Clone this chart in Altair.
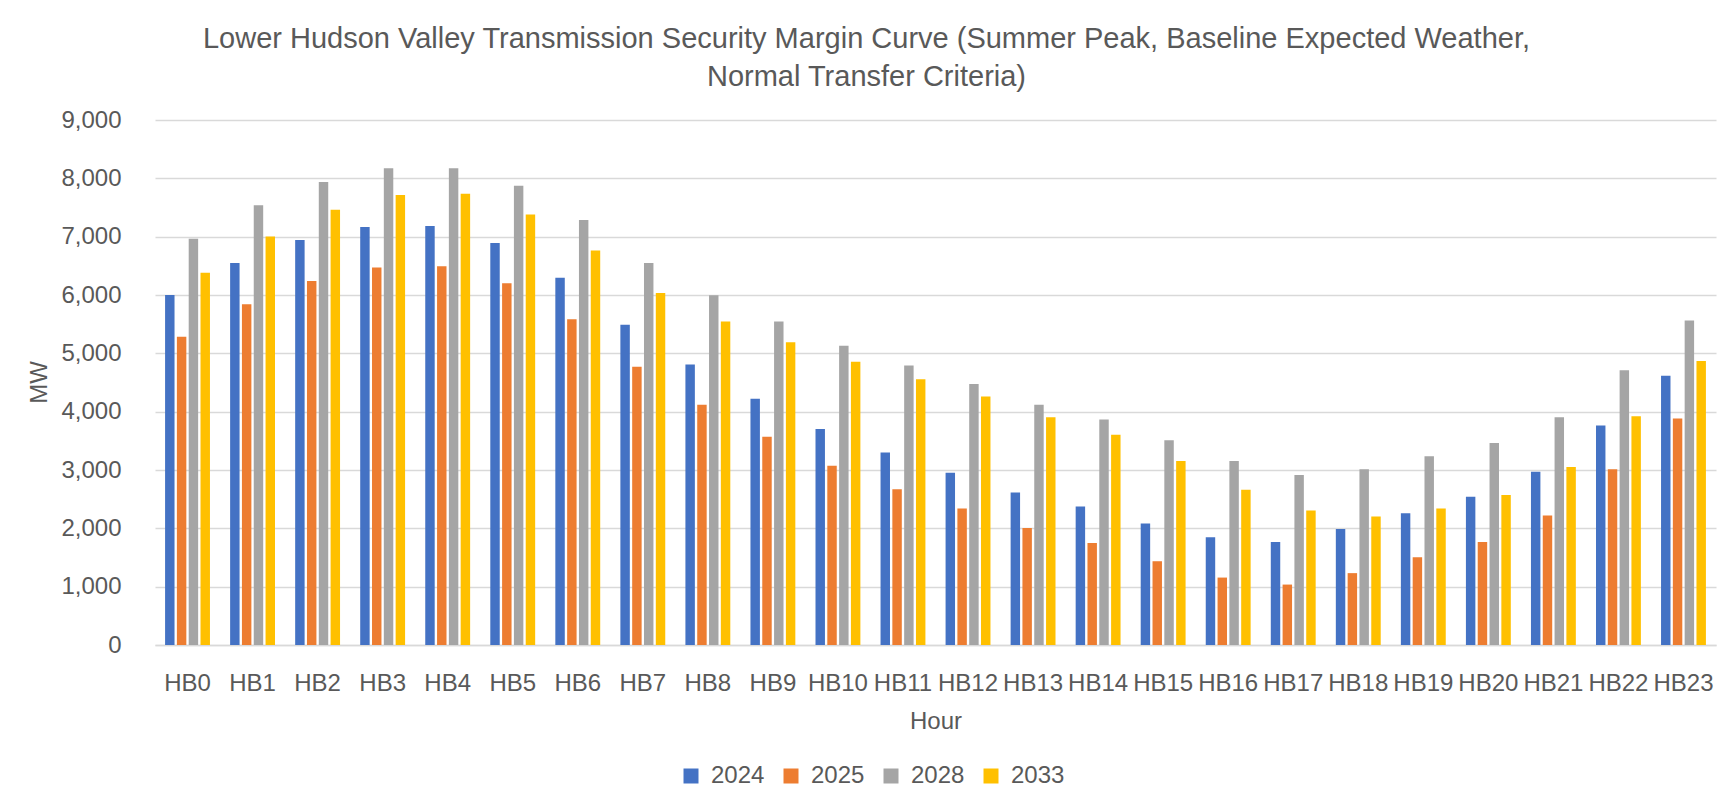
import altair as alt
import pandas as pd

hours = ["HB0", "HB1", "HB2", "HB3", "HB4", "HB5", "HB6", "HB7", "HB8", "HB9", "HB10", "HB11",
         "HB12", "HB13", "HB14", "HB15", "HB16", "HB17", "HB18", "HB19", "HB20", "HB21", "HB22", "HB23"]
years = ["2024", "2025", "2028", "2033"]
colors = ["#4472C4", "#ED7D31", "#A5A5A5", "#FFC000"]

v2024 = [6000, 6550, 6945, 7165, 7185, 6890, 6295, 5490, 4810, 4220, 3705, 3300,
         2955, 2615, 2375, 2085, 1848, 1765, 1988, 2260, 2540, 2972, 3765, 4615]
v2025 = [5285, 5840, 6238, 6472, 6492, 6200, 5585, 4772, 4120, 3568, 3072, 2672,
         2342, 2006, 1747, 1436, 1156, 1036, 1232, 1505, 1766, 2222, 3015, 3885]
v2028 = [6965, 7540, 7938, 8172, 8172, 7875, 7285, 6548, 5996, 5546, 5128, 4792,
         4474, 4118, 3865, 3510, 3155, 2913, 3015, 3236, 3465, 3903, 4710, 5565]
v2033 = [6380, 7005, 7462, 7716, 7735, 7380, 6765, 6034, 5546, 5190, 4855, 4557,
         4258, 3903, 3605, 3155, 2660, 2304, 2203, 2342, 2572, 3053, 3922, 4868]

series = {"2024": v2024, "2025": v2025, "2028": v2028, "2033": v2033}
rows = []
for y in years:
    for h, v in zip(hours, series[y]):
        rows.append({"Hour": h, "Year": y, "MW": v})
df = pd.DataFrame(rows)

FONT = "Liberation Sans"
GREY = "#595959"
GRID = "#D9D9D9"

chart = alt.Chart(df).mark_bar().encode(
    x=alt.X("Hour:N", sort=hours,
            scale=alt.Scale(paddingInner=0.31, paddingOuter=0.155),
            axis=alt.Axis(title="Hour", labelAngle=0, ticks=False, tickSize=0,
                          labelPadding=45, labelBaseline="alphabetic",
                          labelFont=FONT, labelFontSize=24, labelColor=GREY,
                          titleFont=FONT, titleFontSize=24, titleColor=GREY,
                          titleFontWeight="normal", titleBaseline="alphabetic",
                          titleY=83, domainColor=GRID, domainWidth=1.5,
                          grid=False)),
    xOffset=alt.XOffset("Year:N", sort=years,
                        scale=alt.Scale(paddingInner=0.2, paddingOuter=0)),
    y=alt.Y("MW:Q",
            scale=alt.Scale(domain=[0, 9000], nice=False),
            axis=alt.Axis(title="MW", values=list(range(0, 9001, 1000)), format=",.0f",
                          ticks=False, tickSize=0, domain=False, labelPadding=34,
                          labelFont=FONT, labelFontSize=24, labelColor=GREY,
                          titleFont=FONT, titleFontSize=24, titleColor=GREY,
                          titleFontWeight="normal", titleAngle=270,
                          titleBaseline="middle", titleAlign="center",
                          titleX=-116, titleY=262,
                          gridColor=GRID, gridWidth=1.5)),
    color=alt.Color("Year:N", sort=years,
                    scale=alt.Scale(domain=years, range=colors),
                    legend=alt.Legend(title=None, orient="none", legendX=524, legendY=644,
                                      direction="horizontal", symbolType="square",
                                      symbolSize=225, symbolStrokeWidth=0,
                                      labelFont=FONT, labelFontSize=24, labelColor=GREY,
                                      labelOffset=8, columnPadding=14, padding=0)),
).properties(
    width=1561,
    height=525,
    title=alt.TitleParams(
        text=["Lower Hudson Valley Transmission Security Margin Curve (Summer Peak, Baseline Expected Weather,",
              "Normal Transfer Criteria)"],
        font=FONT, fontSize=29, fontWeight="normal", color=GREY,
        anchor="middle", dx=-69, offset=16, lineHeight=38),
    autosize=alt.AutoSizeParams(type="none"),
    padding={"left": 147, "top": 112, "right": 6, "bottom": 148},
).configure_view(stroke=None)

chart.save("out.html", embed_options={"renderer": "svg", "actions": False})
